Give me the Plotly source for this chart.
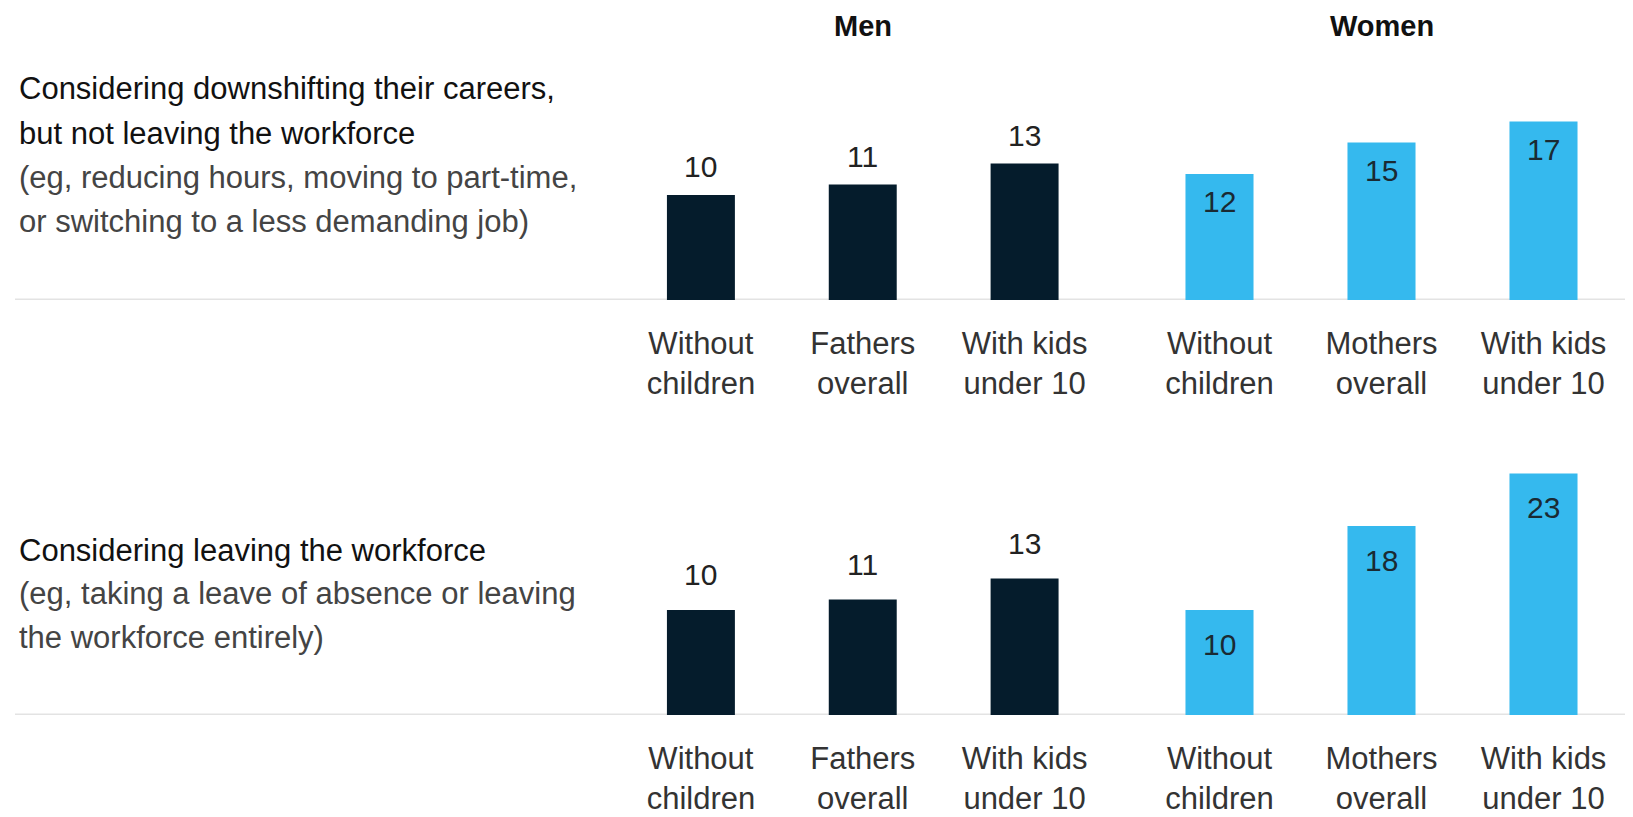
import plotly.graph_objects as go

# ---- data ----
men_categories = ["Without<br>children", "Fathers<br>overall", "With kids<br>under 10"]
women_categories = ["Without<br>children", "Mothers<br>overall", "With kids<br>under 10"]
downshift_men = [10, 11, 13]
downshift_women = [12, 15, 17]
leave_men = [10, 11, 13]
leave_women = [10, 18, 23]
group_titles = ["Men", "Women"]
row1_title = ["Considering downshifting their careers,", "but not leaving the workforce"]
row1_note = ["(eg, reducing hours, moving to part-time,", "or switching to a less demanding job)"]
row2_title = ["Considering leaving the workforce"]
row2_note = ["(eg, taking a leave of absence or leaving", "the workforce entirely)"]

DARK = "#051C2C"
BLUE = "#35B9EE"
FONT = "Liberation Sans, Arial, sans-serif"
W, H = 1633, 817
OFF = 8  # page body margin compensation (px)


def px_x(v):
    return (v - OFF) / W


def px_y(v):
    return 1 - (v - OFF) / H


fig = go.Figure()

men_dom = [px_x(620), px_x(1105.5)]
women_dom = [px_x(1138.5), px_x(1624.5)]
top_dom = [px_y(300), px_y(37.5)]
bot_dom = [px_y(715), px_y(452.5)]
YMAX = 25

panels = [
    ("x", "y", men_categories, downshift_men, DARK, "outside", 10),
    ("x2", "y2", women_categories, downshift_women, BLUE, "inside", -9),
    ("x3", "y3", men_categories, leave_men, DARK, "outside", 17),
    ("x4", "y4", women_categories, leave_women, BLUE, "inside", -16),
]

for xa, ya, cats, vals, col, pos, shift in panels:
    fig.add_trace(go.Bar(
        x=cats, y=vals, xaxis=xa, yaxis=ya,
        marker=dict(color=col, line=dict(width=0)),
        width=0.42, showlegend=False, hoverinfo="skip",
    ))
    for c, v in zip(cats, vals):
        fig.add_annotation(x=c, y=v, xref=xa, yref=ya, text=str(v),
                           showarrow=False,
                           yanchor="bottom" if pos == "outside" else "top",
                           yshift=shift,
                           font=dict(family=FONT, size=30,
                                     color="#222" if pos == "outside" else "#1a2a33"))

xcommon = dict(showgrid=False, zeroline=False, showline=False, ticks="",
               tickfont=dict(family=FONT, size=31, color="#333"),
               ticklabelstandoff=22, fixedrange=True, range=[-0.5, 2.5])
ycommon = dict(showgrid=False, zeroline=False, showline=False,
               showticklabels=False, range=[0, YMAX], fixedrange=True)

fig.update_layout(
    xaxis=dict(domain=men_dom, anchor="y", **xcommon),
    xaxis2=dict(domain=women_dom, anchor="y2", **xcommon),
    xaxis3=dict(domain=men_dom, anchor="y3", **xcommon),
    xaxis4=dict(domain=women_dom, anchor="y4", **xcommon),
    yaxis=dict(domain=top_dom, anchor="x", **ycommon),
    yaxis2=dict(domain=top_dom, anchor="x2", **ycommon),
    yaxis3=dict(domain=bot_dom, anchor="x3", **ycommon),
    yaxis4=dict(domain=bot_dom, anchor="x4", **ycommon),
    width=W, height=H,
    margin=dict(l=0, r=0, t=0, b=0),
    paper_bgcolor="white", plot_bgcolor="white",
)

# baselines
for ya in ["y", "y3"]:
    fig.add_shape(type="line", xref="paper", yref=ya, x0=px_x(15), x1=1,
                  y0=0, y1=0, line=dict(color="#e3e3e3", width=3), layer="below")

# group headers
for title, dom in zip(group_titles, [men_dom, women_dom]):
    fig.add_annotation(x=(dom[0] + dom[1]) / 2, y=px_y(26), xref="paper", yref="paper",
                       text=title, showarrow=False, xanchor="center", yanchor="middle",
                       font=dict(family=FONT, size=29, color="#111", weight=600))


def add_lines(lines, y_start, step, color):
    for i, line in enumerate(lines):
        fig.add_annotation(x=px_x(17), y=px_y(y_start + i * step), xref="paper", yref="paper",
                           text=line, showarrow=False, xanchor="left", yanchor="middle",
                           font=dict(family=FONT, size=31, color=color))


add_lines(row1_title, 88.5, 44.5, "#111")
add_lines(row1_note, 88.5 + 2 * 44.5, 44.5, "#444")
add_lines(row2_title, 550, 43.7, "#111")
add_lines(row2_note, 550 + 43.7, 43.7, "#444")

fig.write_html("out.html")
